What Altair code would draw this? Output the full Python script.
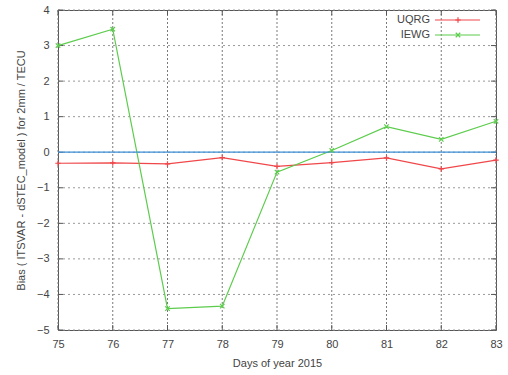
import altair as alt
import pandas as pd

# Day of year 2015
days = [75, 76, 77, 78, 79, 80, 81, 82, 83]
# Bias per day for each ionosphere product (TECU)
uqrg = [-0.31, -0.30, -0.33, -0.15, -0.40, -0.29, -0.16, -0.47, -0.22]
iewg = [3.00, 3.46, -4.40, -4.33, -0.56, 0.05, 0.72, 0.36, 0.87]
y_ticks = [-5, -4, -3, -2, -1, 0, 1, 2, 3, 4]

series_names = ["UQRG", "IEWG"]
series_colors = ["#f0474a", "#5ccc4c"]
zero_color = "#3d8fd6"
grid_color = "#9a9a9a"
vgrid_color = "#7a7a7a"
frame_color = "#555"

W, H = 438, 320
FONT = "Liberation Sans"
PLUS = "M-1,0L1,0M0,-1L0,1"
CROSS = "M-1,-1L1,1M-1,1L1,-1"

rows = []
for d, u, g in zip(days, uqrg, iewg):
    rows.append({"day": d, "bias": u, "series": "UQRG"})
    rows.append({"day": d, "bias": g, "series": "IEWG"})
df = pd.DataFrame(rows)
xt = pd.DataFrame({"day": days})
yt = pd.DataFrame({"bias": y_ticks})

x_scale = alt.Scale(domain=[75, 83], nice=False, zero=False)
y_scale = alt.Scale(domain=[-5, 4], nice=False, zero=False)
color_scale = alt.Scale(domain=series_names, range=series_colors)
color_enc = alt.Color("series:N", scale=color_scale, legend=None)

common_axis = dict(
    grid=False, ticks=False, domain=False, labelOverlap=False,
    labelFlush=False, labelFont=FONT, titleFont=FONT, labelFontSize=11,
    titleFontSize=11, labelColor="#444", titleColor="#444",
    titleFontWeight="normal",
)

x_enc = alt.X(
    "day:Q", scale=x_scale,
    axis=alt.Axis(title="Days of year 2015", values=days, format="d",
                  labelPadding=8, titlePadding=8, **common_axis),
)
y_enc = alt.Y(
    "bias:Q", scale=y_scale,
    axis=alt.Axis(title="Bias ( ITSVAR - dSTEC_model ) for 2mm / TECU",
                  values=y_ticks, format="d", labelPadding=9,
                  titlePadding=10, **common_axis),
)

# Dotted grid
grid_x = alt.Chart(xt).mark_rule(
    color=vgrid_color, strokeDash=[2, 2], strokeWidth=1, strokeCap="butt"
).encode(x=x_enc, y=alt.value(0), y2=alt.value(H))
grid_y = alt.Chart(yt).mark_rule(
    color=grid_color, strokeDash=[2, 3], strokeWidth=1
).encode(y=y_enc, x=alt.value(0), x2=alt.value(W))

# Inward tick marks on all four sides
TL = 5
tick_kw = dict(color=frame_color, strokeWidth=1)
ticks_bottom = alt.Chart(xt).mark_rule(**tick_kw).encode(
    x=x_enc, y=alt.value(H), y2=alt.value(H - TL))
ticks_top = alt.Chart(xt).mark_rule(**tick_kw).encode(
    x=x_enc, y=alt.value(0), y2=alt.value(TL))
ticks_left = alt.Chart(yt).mark_rule(**tick_kw).encode(
    y=y_enc, x=alt.value(0), x2=alt.value(TL))
ticks_right = alt.Chart(yt).mark_rule(**tick_kw).encode(
    y=y_enc, x=alt.value(W - TL), x2=alt.value(W))

base = alt.Chart(df)

lines = base.mark_line(strokeWidth=1.2).encode(
    x=x_enc, y=y_enc, color=color_enc, detail="series:N",
)

# Zero reference line
zero_line = alt.Chart(pd.DataFrame({"bias": [0]})).mark_rule(
    color=zero_color, strokeWidth=1.2
).encode(y=y_enc)


def markers(name, shape, size):
    return base.transform_filter(alt.datum.series == name).mark_point(
        shape=shape, filled=False, size=size, strokeWidth=1.2, opacity=1
    ).encode(x=x_enc, y=y_enc, color=color_enc)


# Key in the upper right: label, then a line sample with its marker
def key_entry(name, shape, size, ypix):
    d = pd.DataFrame({"series": [name]})
    c = alt.Chart(d)
    text = c.mark_text(align="right", baseline="middle", font=FONT,
                       fontSize=11, color="#444").encode(
        x=alt.value(372), y=alt.value(ypix), text="series:N")
    rule = c.mark_rule(strokeWidth=1.2).encode(
        x=alt.value(377), x2=alt.value(422), y=alt.value(ypix), color=color_enc)
    pt = c.mark_point(shape=shape, filled=False, size=size, strokeWidth=1.2,
                      opacity=1).encode(
        x=alt.value(400), y=alt.value(ypix), color=color_enc)
    return [text, rule, pt]


layers = [grid_x, grid_y, ticks_bottom, ticks_top, ticks_left, ticks_right,
          lines, zero_line, markers("UQRG", PLUS, 30), markers("IEWG", CROSS, 20)]
layers += key_entry("UQRG", PLUS, 30, 10)
layers += key_entry("IEWG", CROSS, 20, 25)

chart = alt.layer(*layers).properties(
    width=W, height=H,
    autosize=alt.AutoSizeParams(type="none"),
    padding={"left": 58, "top": 10, "right": 12, "bottom": 45},
    background="white",
).configure_view(stroke=frame_color, strokeWidth=1)

chart.save("out.html", embed_options={"renderer": "svg", "actions": False})
